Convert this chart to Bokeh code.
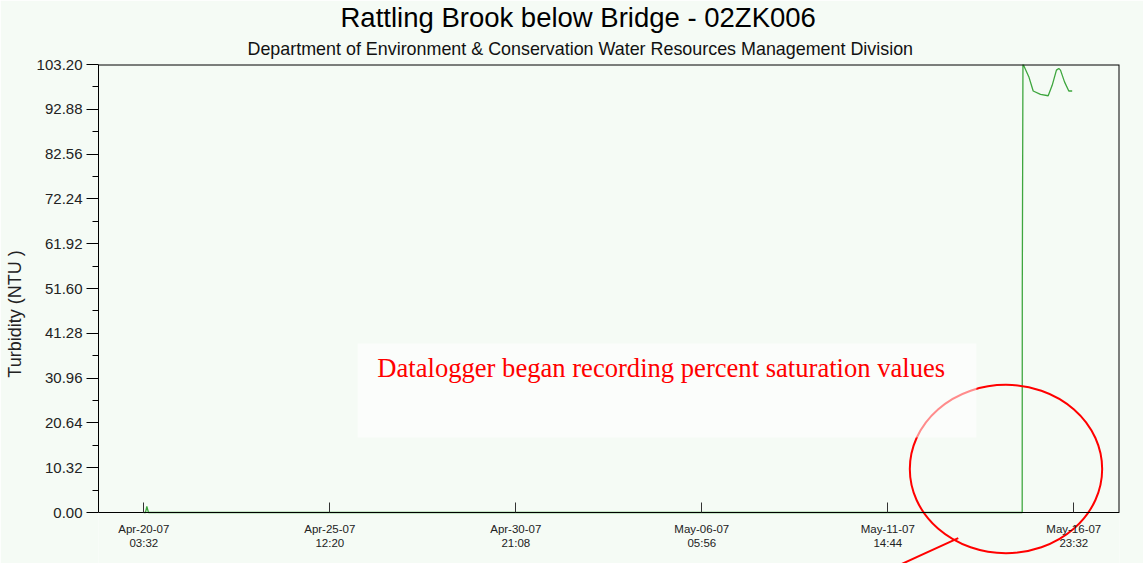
import pandas as pd
from bokeh.plotting import figure
from bokeh.models import Range1d, FixedTicker, Label, ColumnDataSource, Title
from bokeh.embed import file_html
from bokeh.resources import INLINE

# ---------------- data ----------------
times = ["2007-04-20 03:32", "2007-04-20 04:43", "2007-04-20 05:38", "2007-04-20 06:47",
         "2007-05-15 11:48", "2007-05-15 11:52", "2007-05-15 12:20", "2007-05-15 12:55",
         "2007-05-15 16:22", "2007-05-15 19:25", "2007-05-16 00:28", "2007-05-16 05:48",
         "2007-05-16 08:34", "2007-05-16 11:31", "2007-05-16 13:09", "2007-05-16 14:19",
         "2007-05-16 17:06", "2007-05-16 20:04", "2007-05-16 22:25"]
turbidity = [0.0, 0.0, 1.4, 0.0,
             0.0, 51.6, 104.0, 102.9,
             100.4, 97.1, 96.3, 96.0,
             98.4, 101.9, 102.3, 101.9,
             99.2, 97.1, 97.1]

x_tick_times = ["2007-04-20 03:32", "2007-04-25 12:20", "2007-04-30 21:08",
                "2007-05-06 05:56", "2007-05-11 14:44", "2007-05-16 23:32"]
x_tick_labels = ["Apr-20-07\n03:32", "Apr-25-07\n12:20", "Apr-30-07\n21:08",
                 "May-06-07\n05:56", "May-11-07\n14:44", "May-16-07\n23:32"]
y_ticks = [0.00, 10.32, 20.64, 30.96, 41.28, 51.60, 61.92, 72.24, 82.56, 92.88, 103.20]
y_tick_labels = ["0.00", "10.32", "20.64", "30.96", "41.28", "51.60",
                 "61.92", "72.24", "82.56", "92.88", "103.20"]
y_minor_ticks = [5.16, 15.48, 25.80, 36.12, 46.44, 56.76, 67.08, 77.40, 87.72, 98.04]

x_start = "2007-04-18 20:10"
x_end = "2007-05-18 07:11"
y_min, y_max = 0.0, 103.2
y_view_min = -11.748          # view extends below the axis so the callout can be drawn there

title_text = "Rattling Brook below Bridge - 02ZK006"
subtitle_text = "Department of Environment & Conservation Water Resources Management Division"
y_label = "Turbidity (NTU )"
note_text = "Datalogger began recording percent saturation values"

# annotation geometry (data units)
note_box = ("2007-04-26 07:32", "2007-05-14 04:08", 17.28, 38.93)   # left, right, bottom, top
note_pos = ("2007-04-26 21:14", 33.4)
ellipse_center = ("2007-05-15 00:35", 10.02)
ellipse_rx_hours = 66.6
ellipse_ry = 19.4
pointer = (("2007-05-13 15:32", -5.92), ("2007-05-11 21:26", -12.3))


def ms(t):
    return pd.Timestamp(t).value // 10**6


BG = "#f5fbf5"

p = figure(width=1143, height=563, x_axis_type="datetime", output_backend="svg",
           toolbar_location=None, min_border_left=98, min_border_right=24,
           min_border_top=64, min_border_bottom=0, title=None,
           x_range=Range1d(ms(x_start), ms(x_end)), y_range=Range1d(y_view_min, y_max))
p.background_fill_color = BG
p.border_fill_color = BG
p.outline_line_color = None
p.grid.visible = False

src = ColumnDataSource(dict(t=[ms(t) for t in times], v=turbidity))
p.line("t", "v", source=src, line_color="#3ea63e", line_width=1.3)

# top and right edges of the plotting box (left/bottom are the axes)
p.line([ms(x_start), ms(x_end), ms(x_end)], [y_max, y_max, y_min],
       line_color="black", line_width=2)

# titles (subtitle nearest the frame, main title above it)
p.add_layout(Title(text=subtitle_text, align="left", offset=149, standoff=12,
                   text_font="Liberation Sans", text_font_size="17.9px",
                   text_font_style="normal", text_color="#111111"), "above")
p.add_layout(Title(text=title_text, align="left", offset=242, standoff=-4,
                   text_font="Liberation Sans", text_font_size="27.5px",
                   text_font_style="normal", text_color="black"), "above")

# x axis, pinned at turbidity 0
xa = p.xaxis[0]
xa.fixed_location = y_min
xa.ticker = FixedTicker(ticks=[ms(t) for t in x_tick_times], minor_ticks=[])
xa.major_label_overrides = {ms(t): lab for t, lab in zip(x_tick_times, x_tick_labels)}
xa.major_tick_in = 10
xa.major_tick_out = 0
xa.minor_tick_in = 0
xa.minor_tick_out = 0
xa.major_label_text_font = "Liberation Sans"
xa.major_label_text_font_size = "11.5px"
xa.major_label_text_color = "#222222"
xa.major_label_standoff = 10
xa.axis_line_color = "black"
xa.major_tick_line_color = "#333333"

# y axis
ya = p.yaxis[0]
ya.bounds = (y_min, y_max)
ya.ticker = FixedTicker(ticks=y_ticks, minor_ticks=y_minor_ticks)
ya.major_label_overrides = {v: lab for v, lab in zip(y_ticks, y_tick_labels)}
ya.major_tick_in = 0
ya.major_tick_out = 12
ya.minor_tick_in = 0
ya.minor_tick_out = 6
ya.major_label_text_font = "Liberation Sans"
ya.major_label_text_font_size = "15px"
ya.major_label_text_color = "#222222"
ya.major_label_standoff = 4
ya.axis_label = y_label
ya.axis_label_text_font = "Liberation Sans"
ya.axis_label_text_font_size = "18px"
ya.axis_label_text_font_style = "normal"
ya.axis_label_text_color = "#222222"
ya.axis_label_standoff = 9
ya.axis_line_color = "black"

# red callout ellipse and pointer stroke
p.ellipse(x=[ms(ellipse_center[0])], y=[ellipse_center[1]],
          width=[2 * ellipse_rx_hours * 3600 * 1000], height=[2 * ellipse_ry],
          fill_alpha=0, line_color="red", line_width=2)
p.line([ms(pointer[0][0]), ms(pointer[1][0])], [pointer[0][1], pointer[1][1]],
       line_color="red", line_width=2)

# translucent white note box
p.quad(left=[ms(note_box[0])], right=[ms(note_box[1])],
       bottom=[note_box[2]], top=[note_box[3]],
       fill_color="white", fill_alpha=0.55, line_alpha=0)

p.add_layout(Label(x=ms(note_pos[0]), y=note_pos[1], text=note_text,
                   text_font="Liberation Serif", text_font_size="26.6px", text_color="red",
                   text_align="left", text_baseline="alphabetic"))

open("out.html", "w").write(file_html(p, INLINE))
